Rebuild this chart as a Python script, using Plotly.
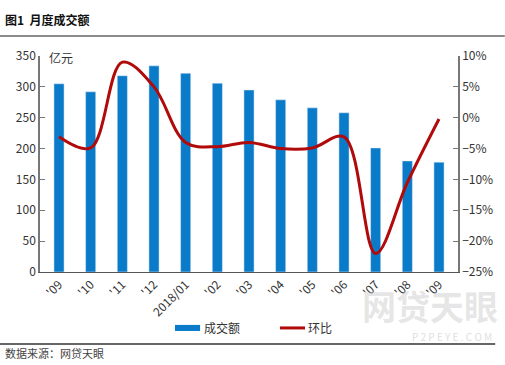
import plotly.graph_objects as go

months = ["'09", "'10", "'11", "'12", "2018/01", "'02", "'03", "'04", "'05", "'06", "'07", "'08", "'09"]
volume = [305, 292, 318, 334, 322, 306, 295, 279, 266, 258, 201, 180, 178]
mom = [-3.1, -4.9, 9.0, 5.0, -4.0, -4.7, -4.0, -5.0, -4.9, -3.1, -22.0, -10.5, -0.2]

x = list(range(len(months)))
FONT = "Noto Sans CJK SC, Microsoft YaHei, sans-serif"
BLUE = "#0A7BC9"
RED = "#B00A0A"

fig = go.Figure()
fig.add_trace(go.Bar(x=x, y=volume, name="成交额", marker_color=BLUE, width=0.32, yaxis="y"))
fig.add_trace(go.Scatter(x=x, y=mom, name="环比", mode="lines",
                         line=dict(color=RED, width=3, shape="spline", smoothing=1.0), yaxis="y2"))

fig.update_layout(
    width=505, height=365,
    margin=dict(l=40, r=47, t=56, b=93),
    paper_bgcolor="white", plot_bgcolor="white",
    showlegend=False,
    font=dict(family=FONT, size=12, color="#333333"),
    xaxis=dict(
        tickmode="array", tickvals=x, ticktext=months, tickangle=-45,
        range=[-0.6, len(x) - 0.4], showgrid=False, zeroline=False,
        showline=True, linecolor="#555555", linewidth=1,
        ticks="", tickfont=dict(size=12, color="#333333"),
    ),
    yaxis=dict(
        range=[0, 350], dtick=50, showgrid=False, zeroline=False,
        showline=True, linecolor="#777777", linewidth=1.5,
        ticks="inside", ticklen=5, tickcolor="#777777",
        tickfont=dict(size=12, color="#333333"),
    ),
    yaxis2=dict(
        range=[-25, 10], dtick=5, overlaying="y", side="right",
        showgrid=False, zeroline=False, ticksuffix="%",
        showline=True, linecolor="#777777", linewidth=1.5,
        ticks="inside", ticklen=5, tickcolor="#777777",
        tickfont=dict(size=12, color="#333333"),
    ),
)

# title and rules
fig.add_annotation(xref="paper", yref="paper", x=-0.0885, y=1.167, xanchor="left", yanchor="middle",
                   text="<b>图1  月度成交额</b>", showarrow=False, font=dict(size=12, color="#111111"))
fig.add_shape(type="line", xref="paper", yref="paper", x0=-0.0957, x1=1.112, y0=1.0926, y1=1.0926,
              line=dict(color="#666666", width=1.5))
fig.add_annotation(xref="paper", yref="paper", x=0.017, y=0.995, xanchor="left", yanchor="middle",
                   text="亿元", showarrow=False, font=dict(size=12, color="#333333"))

# watermark
fig.add_annotation(xref="paper", yref="paper", x=1.10, y=-0.153, xanchor="right", yanchor="middle",
                   text="<b>网贷天眼</b>", showarrow=False, font=dict(size=34, color="rgba(200,200,200,0.45)"))
fig.add_annotation(xref="paper", yref="paper", x=1.085, y=-0.30, xanchor="right", yanchor="middle",
                   text="P 2 P E Y E . C O M", showarrow=False, font=dict(size=10, color="rgba(200,200,200,0.6)"))

# legend (manual)
fig.add_shape(type="rect", xref="paper", yref="paper", x0=0.323, x1=0.383, y0=-0.273, y1=-0.245,
              fillcolor=BLUE, line=dict(width=0))
fig.add_annotation(xref="paper", yref="paper", x=0.388, y=-0.259, xanchor="left", yanchor="middle",
                   text="成交额", showarrow=False, font=dict(size=12, color="#333333"))
fig.add_shape(type="line", xref="paper", yref="paper", x0=0.574, x1=0.634, y0=-0.259, y1=-0.259,
              line=dict(color=RED, width=3))
fig.add_annotation(xref="paper", yref="paper", x=0.637, y=-0.259, xanchor="left", yanchor="middle",
                   text="环比", showarrow=False, font=dict(size=12, color="#333333"))

# bottom rule and source
fig.add_shape(type="line", xref="paper", yref="paper", x0=-0.0957, x1=1.089, y0=-0.333, y1=-0.333,
              line=dict(color="#333333", width=1.5))
fig.add_annotation(xref="paper", yref="paper", x=-0.0885, y=-0.375, xanchor="left", yanchor="middle",
                   text="数据来源：网贷天眼", showarrow=False, font=dict(size=11, color="#444444"))

fig.write_html("out.html", config={"displayModeBar": False},
               post_script="document.body.style.margin='0';document.body.style.overflow='hidden';")
